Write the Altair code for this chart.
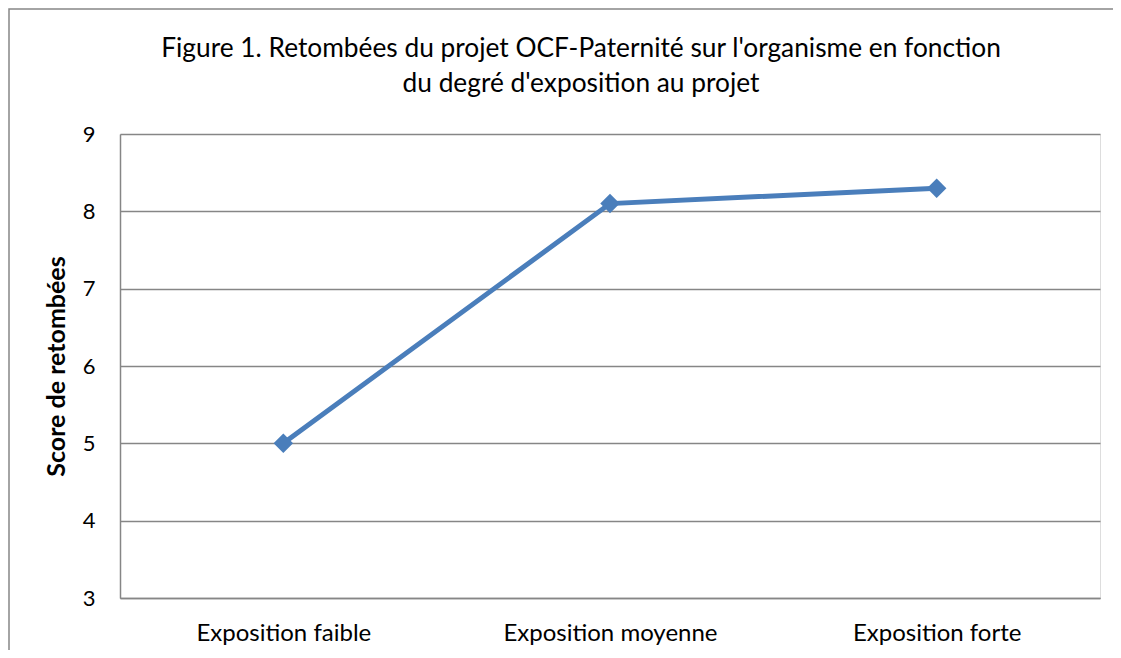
import altair as alt
import pandas as pd

categories = ["Exposition faible", "Exposition moyenne", "Exposition forte"]
scores = [5.0, 8.1, 8.3]
y_ticks = [3, 4, 5, 6, 7, 8, 9]
title_line1 = "Figure 1. Retombées du projet OCF-Paternité sur l'organisme en fonction"
title_line2 = "du degré d'exposition au projet"
y_title = "Score de retombées"

df = pd.DataFrame({"cat": categories, "score": scores})

FONT = "Lato"
GRID = "#868686"
BLUE = "#4A7EBB"

x_enc = alt.X("cat:N", sort=categories,
              scale=alt.Scale(type="point", padding=0.5),
              axis=alt.Axis(title=None, labelAngle=0, labelFontSize=24, labelFont=FONT,
                            labelColor="#000000", labelPadding=23, labelLimit=0, ticks=False,
                            domainColor=GRID, domainWidth=1.5, grid=False))
y_enc = alt.Y("score:Q", scale=alt.Scale(domain=[3, 9], nice=False, zero=False),
              axis=alt.Axis(values=y_ticks, title=y_title, titleFont=FONT, titleFontSize=25,
                            titleFontWeight="bold", titleColor="#000000",
                            titleX=-64, titleY=232, titleAngle=-90, titleAlign="center",
                            titleBaseline="middle",
                            labelFontSize=22, labelFont=FONT, labelColor="#000000",
                            labelPadding=25, ticks=False, domainColor=GRID, domainWidth=1.5,
                            gridColor=GRID, gridWidth=1.5))

line = alt.Chart(df).mark_line(color=BLUE, strokeWidth=5).encode(x=x_enc, y=y_enc)
pts = alt.Chart(df).mark_point(shape="diamond", filled=True, size=380, color=BLUE,
                               opacity=1).encode(x=x_enc, y=y_enc)

border = alt.Chart(alt.Data(values=[{"a": 1}])).mark_rect(
    fillOpacity=0, stroke=GRID, strokeWidth=1.5
).encode(x=alt.value(-111), x2=alt.value(1030), y=alt.value(-125), y2=alt.value(800))

t1 = alt.Chart(alt.Data(values=[{"t": title_line1}])).mark_text(
    font=FONT, fontSize=26.3, color="#000000", align="center", baseline="alphabetic"
).encode(text="t:N", x=alt.value(461), y=alt.value(-77))
t2 = alt.Chart(alt.Data(values=[{"t": title_line2}])).mark_text(
    font=FONT, fontSize=26.3, color="#000000", align="center", baseline="alphabetic"
).encode(text="t:N", x=alt.value(461), y=alt.value(-42))

chart = alt.layer(border, line, pts, t1, t2).properties(
    width=980, height=464,
    autosize=alt.AutoSizeParams(type="none"),
    padding={"left": 112, "top": 126, "right": 13, "bottom": 52},
).configure_view(stroke=None).configure(background="white")

chart.save("out.html", embed_options={"renderer": "svg", "actions": False})
